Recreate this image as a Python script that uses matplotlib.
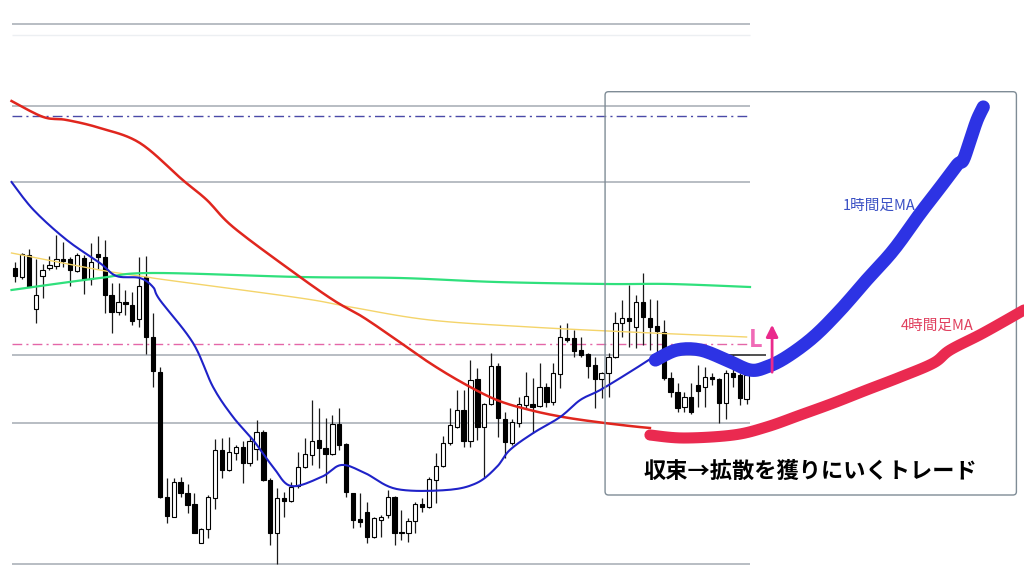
import numpy as np
import matplotlib.pyplot as plt
from matplotlib.patches import FancyBboxPatch

plt.rcParams['font.family'] = ['Noto Sans CJK JP', 'DejaVu Sans']

# candles (price units, one per bar)
opens = [308, 299, 321, 267, 300, 308, 310, 317, 317, 305,
         318, 297, 322, 319, 281, 264, 274, 271, 257, 299,
         239, 204, 79, 59, 94, 83, 72, 33, 47, 78,
         126, 106, 123, 129, 113, 127, 144, 96, 43, 78,
         75, 90, 109, 121, 136, 128, 122, 152, 132, 83,
         57, 64, 39, 56, 61, 79, 44, 43, 55, 72,
         69, 96, 110, 133, 149, 166, 135, 197, 149, 172,
         210, 157, 133, 153, 171, 172, 170, 189, 174, 202,
         238, 238, 226, 222, 211, 197, 203, 219, 253, 258,
         249, 274, 258, 250, 244, 198, 184, 169, 179, 191,
         189, 199, 197, 173, 203, 201, 177]
highs = [314, 323, 327, 317, 312, 320, 341, 334, 319, 323,
         321, 333, 340, 336, 293, 293, 286, 284, 319, 320,
         263, 209, 98, 98, 99, 92, 83, 48, 81, 137,
         138, 139, 131, 135, 139, 156, 146, 98, 88, 84,
         94, 124, 138, 176, 168, 158, 161, 168, 133, 83,
         83, 74, 59, 61, 86, 80, 66, 58, 74, 78,
         99, 123, 140, 168, 186, 186, 216, 208, 173, 223,
         213, 164, 157, 179, 204, 198, 213, 193, 213, 251,
         253, 246, 239, 223, 219, 204, 223, 264, 276, 291,
         281, 303, 277, 276, 256, 204, 193, 184, 193, 211,
         209, 203, 198, 206, 221, 203, 203]
lows = [294, 297, 289, 253, 278, 306, 307, 309, 290, 304,
        282, 291, 307, 263, 243, 261, 261, 251, 249, 222,
        189, 78, 53, 59, 79, 63, 43, 33, 38, 67,
        98, 105, 116, 93, 110, 116, 95, 31, 12, 59,
        74, 88, 108, 111, 108, 93, 121, 126, 79, 48,
        49, 33, 38, 39, 58, 31, 36, 34, 43, 64,
        68, 73, 109, 131, 148, 129, 129, 136, 99, 171,
        139, 118, 131, 149, 168, 143, 169, 169, 171, 188,
        234, 219, 219, 198, 168, 178, 179, 218, 239, 229,
        228, 231, 226, 221, 196, 179, 164, 164, 162, 169,
        169, 191, 153, 157, 189, 171, 172]
closes = [300, 322, 289, 281, 306, 311, 317, 315, 306, 321,
          297, 314, 319, 281, 264, 274, 272, 255, 290, 239,
          205, 79, 60, 94, 83, 71, 43, 47, 79, 126,
          106, 124, 129, 113, 135, 144, 96, 43, 78, 75,
          89, 109, 122, 135, 128, 122, 152, 131, 84, 56,
          54, 39, 58, 59, 79, 43, 43, 55, 72, 69,
          97, 110, 133, 151, 166, 135, 196, 149, 172, 210,
          158, 134, 154, 172, 180, 169, 189, 174, 203, 239,
          236, 225, 221, 210, 197, 203, 219, 253, 258, 255,
          274, 259, 249, 245, 198, 184, 168, 179, 164, 185,
          199, 197, 173, 203, 199, 178, 201]

# moving averages (bar position, price)
ma_fast_x = [-0.5, 2.7, 7.5, 12.3, 14.7, 18.1, 20.0, 21.0, 25.8, 28.7, 31.6, 34.5, 37.4,
             40.0, 44.4, 47.3, 50.7, 55.3, 62.6, 66.9, 69.8, 71.7, 75.1, 79.0, 81.9,
             84.8, 89.1, 92.5]
ma_fast_y = [394, 366, 336, 313, 300, 298, 289, 276, 233, 189, 159, 136, 109,
             90, 99, 111, 103, 87, 86, 93, 109, 126, 143, 159, 176,
             186, 204, 219]
ma_slow_x = [-0.5, 4.1, 7.5, 12.3, 18.1, 24.3, 27.8, 31.6, 39.9, 46.1, 50.4, 55.3,
             60.1, 64.9, 69.8, 74.6, 79.4, 84.3, 89.1, 92.0]
ma_slow_y = [475, 459, 456, 448, 433, 396, 376, 349, 306, 276, 259, 236,
             213, 193, 176, 166, 159, 154, 150, 148]
ma_green_x = [-0.5, 12.3, 20.0, 41.3, 55.8, 69.8, 85.8, 94.9, 106.5]
ma_green_y = [286, 298, 303, 299, 298, 294, 292, 292, 289]
ma_yellow_x = [-0.5, 12.3, 19.1, 22.0, 41.3, 48.6, 60.1, 74.6, 89.1, 106.0]
ma_yellow_y = [323, 306, 299, 296, 278, 269, 256, 249, 244, 239]

# hand-drawn projection of the 1h / 4h MA
proj_1h_x = [92.8, 95.9, 99.3, 103.1, 106.5, 108.9, 111.8, 115.7, 119.6, 123.4, 127.3,
             131.2, 134.1, 136.5, 137.4, 138.4, 139.4, 140.3]
proj_1h_y = [216, 226, 226, 216, 206, 209, 219, 239, 266, 296, 326,
             363, 389, 411, 416, 436, 456, 469]
proj_4h_x = [92.0, 96.9, 104.1, 108.9, 113.8, 118.6, 123.4, 128.3, 133.1, 135.5, 140.3, 146.2]
proj_4h_y = [141, 138, 141, 149, 161, 173, 186, 199, 213, 226, 243, 266]

# horizontal levels
gray_levels = [552, 470, 394, 221, 153, 12]
faint_level = 541
blue_level = 460
pink_level = 232
resist_level = 221


def smooth(xs, ys, n=10):
    # catmull-rom through the read points, just to round off the corners
    p = np.column_stack([xs, ys]).astype(float)
    p = np.vstack([p[0], p, p[-1]])
    t = np.linspace(0, 1, n, endpoint=False)[:, None]
    out = []
    for i in range(1, len(p) - 2):
        p0, p1, p2, p3 = p[i - 1], p[i], p[i + 1], p[i + 2]
        out.append(0.5 * (2 * p1 + (p2 - p0) * t + (2 * p0 - 5 * p1 + 4 * p2 - p3) * t ** 2
                          + (3 * p1 - p0 - 3 * p2 + p3) * t ** 3))
    out.append(p[-2][None])
    out = np.vstack(out)
    return out[:, 0], out[:, 1]


fig = plt.figure(figsize=(10.24, 5.76), dpi=100)
ax = fig.add_axes([0, 0, 1, 1])
ax.set_xlim(-2.17, 146.2)
ax.set_ylim(0, 576)
ax.axis('off')

ax.hlines(gray_levels, -0.43, 106.5, colors='#a4abb3', lw=1.1, zorder=1)
ax.hlines(faint_level, -0.43, 106.5, colors='#eceff2', lw=1.0, zorder=1)
ax.hlines(blue_level, -0.43, 106.5, colors='#4a4aa8', lw=1.0,
          linestyles=(0, (7, 3, 1.5, 3)), zorder=1)
ax.hlines(pink_level, -0.43, 106.5, colors='#e466a8', lw=1.0,
          linestyles=(0, (7, 3, 1.5, 3)), zorder=1)
ax.hlines(resist_level, 103.2, 108.8, colors='#333333', lw=1.2, zorder=2)

# candles
o = np.array(opens, float)
c = np.array(closes, float)
x = np.arange(len(o))
up = c >= o
bottom = np.minimum(o, c)
height = np.maximum(np.abs(c - o), 1.5)
ax.vlines(x, lows, highs, colors='#1a1a1a', lw=0.9, zorder=2)
ax.bar(x, height, 0.62, bottom=bottom, color=np.where(up, 'white', 'black'),
       edgecolor='black', lw=0.8, zorder=3)

# MAs
ax.plot(*smooth(ma_yellow_x, ma_yellow_y), color='#f4d46a', lw=1.0, zorder=4)
ax.plot(*smooth(ma_green_x, ma_green_y), color='#2fe07c', lw=1.6, zorder=4)
ax.plot(*smooth(ma_slow_x, ma_slow_y), color='#e0261e', lw=1.8, zorder=4)
ax.plot(*smooth(ma_fast_x, ma_fast_y), color='#1f22c8', lw=1.5, zorder=4)

# frame around the scenario
box = FancyBboxPatch((85.5, 81), 59.6, 403.3, boxstyle='round,pad=0,rounding_size=0.5',
                     mutation_aspect=6.9, fill=False, ec='#7f8c96', lw=1.0, zorder=5)
ax.add_patch(box)

ax.plot(*smooth(proj_1h_x, proj_1h_y), color='#2d33e4', lw=9.5, solid_capstyle='round',
        solid_joinstyle='round', zorder=6)
ax.plot(*smooth(proj_4h_x, proj_4h_y), color='#ea2a50', lw=8, solid_capstyle='round',
        solid_joinstyle='round', zorder=6)

ax.annotate('', xy=(109.7, 254), xytext=(109.7, 201),
            arrowprops=dict(arrowstyle='-|>,head_width=0.35,head_length=0.7',
                            color='#ea2a8c', lw=2.0), zorder=7)
ax.text(107.3, 236, 'L', color='#f06ab6', fontsize=17, fontweight='bold',
        ha='center', va='center', zorder=7)

ax.text(125.2, 370, '1時間足MA', color='#3a50c4', fontsize=10.5, ha='center', va='center')
ax.text(133.6, 250, '4時間足MA', color='#e0405e', fontsize=10.5, ha='center', va='center')
ax.text(115.2, 105, '収束→拡散を獲りにいくトレード', color='black', fontsize=16,
        fontweight='bold', ha='center', va='center', zorder=7)

fig.savefig('out.png', dpi=100, facecolor='white')
